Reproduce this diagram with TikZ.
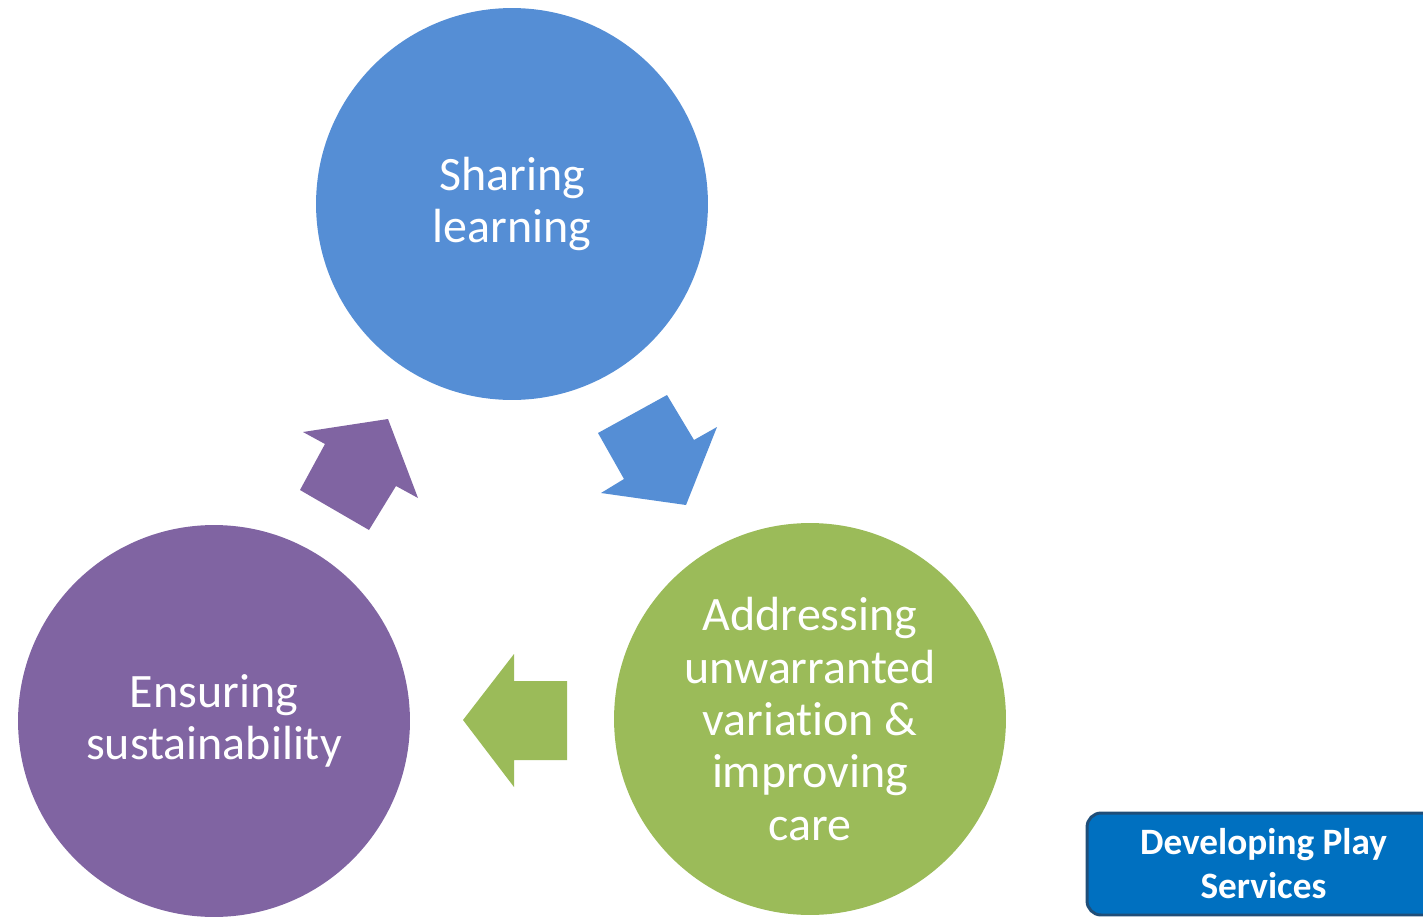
\documentclass[tikz,border=0pt]{standalone}
\usepackage{fontspec}
\setmainfont{Carlito}[Ligatures=NoCommon]
\usepackage{tikz}
\usetikzlibrary{positioning}
\definecolor{bleu}{HTML}{558ED5}
\definecolor{vert}{HTML}{9BBB59}
\definecolor{violet}{HTML}{8064A2}
\definecolor{bleubox}{HTML}{0070C0}
\definecolor{bordbox}{HTML}{1F4E79}

\begin{document}
\begin{tikzpicture}[
		x=0.02cm, y=-0.02cm,
		etape/.style={circle, minimum size=7.84cm, inner sep=0pt, text=white, align=center,
			font=\fontsize{27.3}{29.8}\selectfont},
		encadre/.style={draw=bordbox, line width=1.7pt, fill=bleubox, rounded corners=8pt,
			minimum width=7.06cm, minimum height=2.04cm, text=white, align=center,
			font=\fontsize{21.2}{25}\selectfont\bfseries}
		]
		\useasboundingbox (0,0) rectangle (1423,919);
		
		% Les cercles
		\node[etape, fill=bleu] (partage) at (512,204) {Sharing\\learning};
		\node[etape, fill=vert] (variation) at (810,719) {Addressing\\unwarranted\\variation \&\\improving\\care};
		\node[etape, fill=violet] (durable) at (214,721) {Ensuring\\sustainability};
		
		% Les flèches
		\fill[bleu] (667,395) -- (694,440) -- (717,427) -- (686,505) -- (601,493) -- (624,479) -- (598,433) -- cycle;
		\fill[vert] (463,720) -- (514,654) -- (514,681) -- (567,681) -- (567,760) -- (514,760) -- (514,787) -- cycle;
		\fill[violet] (303,432) -- (388,419) -- (418,498) -- (396,486) -- (369,530) -- (300,490) -- (325,444) -- cycle;
		
		% Le cadre
		\node[encadre] (cadre) at (1263.5,864) {Developing Play\\Services};
	\end{tikzpicture}
\end{document}
